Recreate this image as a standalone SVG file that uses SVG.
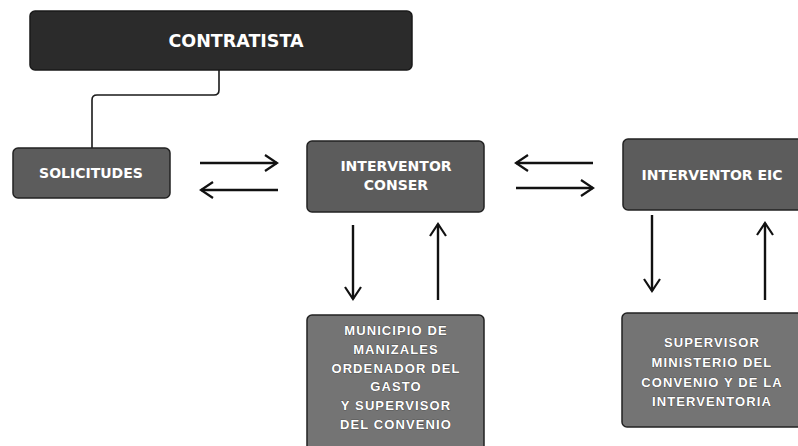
<svg xmlns="http://www.w3.org/2000/svg" width="798" height="446" viewBox="0 0 798 446">
<style>
.dark{fill:#2b2b2b;stroke:#1a1a1a;stroke-width:1.5}
.mid{fill:#5c5c5c;stroke:#222;stroke-width:1.5}
.light{fill:#747474;stroke:#222;stroke-width:1.5}
.t1{font-family:"DejaVu Sans",sans-serif;font-weight:bold;fill:#fff;text-anchor:middle}
.t2{font-family:"Liberation Sans",Arial,sans-serif;font-weight:bold;font-size:13px;letter-spacing:1.1px;fill:#fff;stroke:#333;stroke-width:0.6;paint-order:stroke;text-anchor:middle}
.arr{fill:none;stroke:#111;stroke-width:2.4;marker-end:url(#head)}
.link{fill:none;stroke:#1a1a1a;stroke-width:1.6}
</style>
<defs>
<marker id="head" markerUnits="userSpaceOnUse" markerWidth="20" markerHeight="20" viewBox="-14 -10 16 20" refX="0" refY="0" orient="auto">
<path d="M-12,-8 L0,0 L-12,8" fill="none" stroke="#111" stroke-width="2.2" stroke-linejoin="miter"/>
</marker>
</defs>
<rect width="798" height="446" fill="#fff"/>
<g id="connectors">
<path class="link" d="M219,70 V90 Q219,95 214,95 H97 Q92,95 92,100 V148"/>
<path class="arr" d="M200,163 H277"/>
<path class="arr" d="M278,190 H201"/>
<path class="arr" d="M593,163 H516"/>
<path class="arr" d="M516,188 H593"/>
<path class="arr" d="M353,225 V299"/>
<path class="arr" d="M438,300 V224"/>
<path class="arr" d="M652,215 V291"/>
<path class="arr" d="M765,300 V223"/>
</g>
<g id="contratista">
<rect class="dark" x="30" y="11" width="382" height="59" rx="5"/>
<text class="t1" x="236" y="47" font-size="17.5">CONTRATISTA</text>
</g>
<g id="solicitudes">
<rect class="mid" x="13" y="148" width="157" height="50" rx="5"/>
<text class="t1" x="91" y="178" font-size="14">SOLICITUDES</text>
</g>
<g id="interventor-conser">
<rect class="mid" x="307" y="141" width="177" height="71" rx="5"/>
<text class="t1" x="396" y="171" font-size="14">INTERVENTOR</text>
<text class="t1" x="396" y="190" font-size="14">CONSER</text>
</g>
<g id="interventor-eic">
<rect class="mid" x="623" y="139" width="185" height="71" rx="5"/>
<text class="t1" x="712" y="180" font-size="14">INTERVENTOR EIC</text>
</g>
<g id="municipio">
<rect class="light" x="307" y="315" width="177" height="140" rx="5"/>
<text class="t2" x="396" y="335">MUNICIPIO DE</text>
<text class="t2" x="396" y="354">MANIZALES</text>
<text class="t2" x="396" y="373">ORDENADOR DEL</text>
<text class="t2" x="396" y="391">GASTO</text>
<text class="t2" x="396" y="410">Y SUPERVISOR</text>
<text class="t2" x="396" y="429">DEL CONVENIO</text>
</g>
<g id="supervisor">
<rect class="light" x="622" y="313" width="186" height="114" rx="5"/>
<text class="t2" x="712" y="347">SUPERVISOR</text>
<text class="t2" x="712" y="367">MINISTERIO DEL</text>
<text class="t2" x="712" y="387">CONVENIO Y DE LA</text>
<text class="t2" x="712" y="406">INTERVENTORIA</text>
</g>
</svg>
